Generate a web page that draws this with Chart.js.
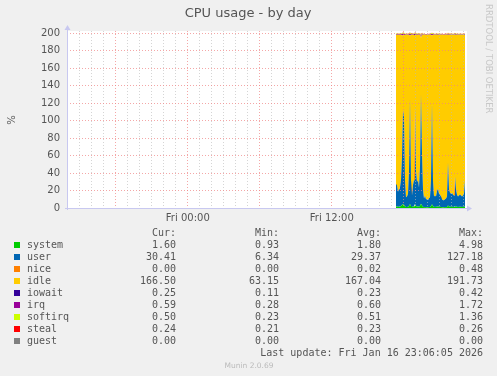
<!DOCTYPE html>
<html><head><meta charset="utf-8">
<script src="https://cdn.jsdelivr.net/npm/chart.js@4/dist/chart.umd.min.js"></script>
<style>html,body{margin:0;padding:0;background:#F0F0F0;}canvas{display:block;}</style>
</head><body>
<canvas id="c" width="497" height="376"></canvas>
<script>
// ---- data (hours relative to Fri 00:00, 5-minute samples) ----
const startHour = 17 + 21/60;
const stepHour = 5/60;
const seriesNames = ['system','user','nice','idle','iowait','irq','softirq','steal','guest'];
const seriesColors = ['#00CC00','#0066B3','#FF8000','#FFCC00','#330099','#990099','#CCFF00','#FF0000','#808080'];
const system = [1.6,1.8,1.5,1.4,1.7,2.2,3.4,4.2,3.6,1.8, 1.2,1.1,1.3,2.4,4.5,2.0,1.2,1.6,1.9,4.9, 2.3,1.7,1.8,1.5,2.5,4.98,2.8,1.4,1.0,1.1, 0.95,0.93,1.0,1.1,1.2,2.0,4.2,1.9,1.2,1.3, 1.2,1.6,1.7,1.4,1.3,1.2,1.0,0.95,1.0,1.1, 1.0,1.2,2.8,1.6,1.4,1.3,1.4,1.3,1.2,2.1, 1.6,1.3,1.2,1.3,1.4,1.3,1.2,1.3,1.4,1.6];
const user = [26,24,17,20,22,30,55,108,100,30, 11,12,15,40,120,30,13,25,30,112, 40,28,30,22,45,125,60,20,10,13, 9,9,8,10,11,30,116,30,12,13, 12,18,20,15,14,12,9,8,8,9, 10,12,49,20,16,15,16,14,13,34, 20,14,12,13,14,13,12,13,15,30];
const nice = [0,0,0,0,0,0,0,0.48,0,0, 0,0,0,0,0.2,0,0,0,0,0, 0,0,0,0,0,0.3,0,0,0,0, 0,0,0,0,0,0,0.2,0,0,0, 0,0,0,0,0,0,0,0,0,0, 0,0,0,0,0,0,0,0,0,0, 0,0,0,0,0,0,0,0,0,0];
const idle = [170.7,172.5,179.8,176.9,174.6,166.1,139.0,85.0,94.0,166.5, 186.1,185.2,182.0,155.9,72.5,166.3,184.1,171.7,166.4,80.5, 156.0,168.6,166.5,174.8,150.8,64.5,135.5,176.9,187.3,184.2, 188.4,188.4,189.3,187.2,186.1,166.3,77.0,166.4,185.1,184.0, 185.1,178.7,176.6,181.9,183.0,185.1,188.3,189.3,189.3,188.2, 187.3,185.1,146.5,176.7,180.9,182.0,180.9,183.0,184.1,162.2, 176.7,183.0,185.1,184.0,182.9,184.0,185.1,184.0,181.9,166.5];
const iowait = [0.25,0.2,0.3,0.22,0.18,0.25,0.35,0.42,0.3,0.2, 0.15,0.2,0.25,0.3,0.4,0.25,0.2,0.18,0.22,0.38, 0.3,0.2,0.25,0.2,0.28,0.4,0.3,0.2,0.15,0.12, 0.11,0.13,0.15,0.2,0.18,0.25,0.35,0.22,0.2,0.18, 0.2,0.22,0.25,0.2,0.18,0.15,0.14,0.12,0.13,0.15, 0.2,0.18,0.3,0.22,0.2,0.25,0.22,0.2,0.18,0.28, 0.22,0.2,0.18,0.2,0.22,0.2,0.18,0.2,0.22,0.25];
const irq = [0.6,0.65,0.5,0.55,0.6,0.7,1.1,1.5,1.3,0.6, 0.4,0.38,0.45,0.8,1.6,0.7,0.42,0.55,0.65,1.5, 0.8,0.6,0.62,0.5,0.85,1.72,1.0,0.5,0.32,0.3, 0.28,0.3,0.32,0.35,0.4,0.7,1.4,0.65,0.4,0.45, 0.42,0.55,0.6,0.5,0.45,0.4,0.33,0.3,0.32,0.35, 0.35,0.4,0.95,0.55,0.5,0.45,0.5,0.45,0.42,0.75, 0.55,0.45,0.42,0.45,0.48,0.45,0.42,0.45,0.5,0.59];
const softirq = [0.5,0.55,0.45,0.48,0.5,0.6,0.9,1.2,1.1,0.5, 0.35,0.32,0.38,0.7,1.3,0.6,0.36,0.48,0.55,1.25, 0.7,0.5,0.52,0.45,0.72,1.36,0.85,0.45,0.28,0.26, 0.23,0.25,0.27,0.3,0.34,0.6,1.2,0.55,0.35,0.38, 0.36,0.48,0.5,0.42,0.38,0.34,0.28,0.25,0.27,0.3, 0.3,0.34,0.8,0.48,0.42,0.38,0.42,0.38,0.36,0.62, 0.46,0.38,0.36,0.38,0.4,0.38,0.36,0.38,0.42,0.5];
const steal = [0.23,0.22,0.24,0.23,0.22,0.23,0.25,0.26,0.24,0.23, 0.22,0.21,0.22,0.23,0.26,0.23,0.22,0.23,0.23,0.25, 0.24,0.23,0.23,0.22,0.24,0.26,0.24,0.23,0.22,0.21, 0.21,0.21,0.22,0.22,0.22,0.23,0.25,0.23,0.22,0.22, 0.22,0.23,0.23,0.22,0.22,0.22,0.21,0.21,0.21,0.22, 0.22,0.22,0.24,0.23,0.22,0.22,0.23,0.22,0.22,0.23, 0.23,0.22,0.22,0.22,0.23,0.22,0.22,0.22,0.23,0.24];
const guest = new Array(70).fill(0);
const seriesValues = [system,user,nice,idle,iowait,irq,softirq,steal,guest];
// legend table
const curVals = ['1.60','30.41','0.00','166.50','0.25','0.59','0.50','0.24','0.00'];
const minVals = ['0.93','6.34','0.00','63.15','0.11','0.28','0.23','0.21','0.00'];
const avgVals = ['1.80','29.37','0.02','167.04','0.23','0.60','0.51','0.23','0.00'];
const maxVals = ['4.98','127.18','0.48','191.73','0.42','1.72','1.36','0.26','0.00'];
const xLabels = {0:'Fri 00:00', 12:'Fri 12:00'};
const titleText = 'CPU usage - by day';
const lastUpdate = 'Last update: Fri Jan 16 23:06:05 2026';
const footer = 'Munin 2.0.69';
const watermark = 'RRDTOOL / TOBI OETIKER';

const times = user.map((_, i) => startHour + i * stepHour);
const datasets = seriesValues.map((vals, k) => ({
  label: seriesNames[k],
  data: vals.map((v, i) => ({x: times[i], y: v})),
  backgroundColor: seriesColors[k],
  borderColor: seriesColors[k],
  borderWidth: 0,
  pointRadius: 0,
  tension: 0,
  fill: k === 0 ? 'origin' : '-1'
}));

const MGRID = 'rgba(240,130,130,0.7)';
const GRID = 'rgba(185,185,185,0.6)';
const TXT = '#555555';

const deco = {
  id: 'deco',
  beforeDraw(chart) {
    const {ctx, chartArea: a} = chart;
    ctx.save();
    ctx.fillStyle = '#F0F0F0';
    ctx.fillRect(0, 0, chart.width, chart.height);
    ctx.fillStyle = '#FFFFFF';
    ctx.fillRect(a.left, a.top, a.right - a.left + 2, a.bottom - a.top);
    ctx.restore();
  },
  afterDraw(chart) {
    const {ctx, chartArea: a} = chart;
    ctx.save();
    // axes with arrows
    ctx.strokeStyle = '#C8C8F0';
    ctx.fillStyle = '#C8C8F0';
    ctx.lineWidth = 1;
    ctx.beginPath();
    ctx.moveTo(a.left + 0.5, a.bottom + 2); ctx.lineTo(a.left + 0.5, a.top - 2);
    ctx.moveTo(a.left - 2, a.bottom + 0.5); ctx.lineTo(a.right + 2, a.bottom + 0.5);
    ctx.stroke();
    ctx.beginPath();
    ctx.moveTo(a.left - 2.5, a.top - 1); ctx.lineTo(a.left + 3.5, a.top - 1); ctx.lineTo(a.left + 0.5, a.top - 6); ctx.closePath();
    ctx.fill();
    ctx.beginPath();
    ctx.moveTo(a.right + 2, a.bottom - 2.5); ctx.lineTo(a.right + 2, a.bottom + 3.5); ctx.lineTo(a.right + 7, a.bottom + 0.5); ctx.closePath();
    ctx.fill();
    // title
    ctx.fillStyle = TXT;
    ctx.font = '13px "DejaVu Sans"';
    ctx.textAlign = 'center'; ctx.textBaseline = 'alphabetic';
    ctx.fillText(titleText, 248, 17);
    // y unit
    ctx.save();
    ctx.translate(12, 120); ctx.rotate(-Math.PI / 2);
    ctx.font = '10px "DejaVu Sans"'; ctx.textAlign = 'center'; ctx.textBaseline = 'middle';
    ctx.fillText('%', 0, 0);
    ctx.restore();
    // watermark
    ctx.save();
    ctx.translate(488, 4); ctx.rotate(Math.PI / 2);
    ctx.fillStyle = '#C8C8C8';
    ctx.font = '8.5px "DejaVu Sans"'; ctx.textAlign = 'left'; ctx.textBaseline = 'middle';
    ctx.fillText(watermark, 0, 0);
    ctx.restore();
    // legend table
    ctx.font = '10px "DejaVu Sans Mono"';
    ctx.textBaseline = 'middle';
    ctx.fillStyle = TXT;
    ctx.textAlign = 'right';
    ctx.fillText('Cur:', 176, 233); ctx.fillText('Min:', 279, 233);
    ctx.fillText('Avg:', 381, 233); ctx.fillText('Max:', 483, 233);
    seriesNames.forEach((n, i) => {
      const y = 245 + 12 * i;
      ctx.fillStyle = seriesColors[i];
      ctx.fillRect(14, y - 3, 6, 6);
      ctx.fillStyle = TXT;
      ctx.textAlign = 'left';
      ctx.fillText(n, 27, y);
      ctx.textAlign = 'right';
      ctx.fillText(curVals[i], 176, y);
      ctx.fillText(minVals[i], 279, y);
      ctx.fillText(avgVals[i], 381, y);
      ctx.fillText(maxVals[i], 483, y);
    });
    ctx.textAlign = 'right';
    ctx.fillText(lastUpdate, 483, 353);
    ctx.fillStyle = '#BBBBBB';
    ctx.font = '7.5px "DejaVu Sans"';
    ctx.textAlign = 'center';
    ctx.fillText(footer, 249, 366);
    ctx.restore();
  }
};

new Chart(document.getElementById('c'), {
  type: 'line',
  data: { datasets },
  plugins: [deco],
  options: {
    responsive: false,
    animation: false,
    events: [],
    layout: { padding: { left: 0, top: 31, right: 32, bottom: 0 } },
    plugins: { legend: { display: false }, title: { display: false }, tooltip: { enabled: false }, filler: { propagate: false } },
    elements: { line: { borderWidth: 0 } },
    scales: {
      x: {
        type: 'linear',
        min: 23.1 - 398 / 12,
        max: 23.1,
        afterFit: s => { s.height = 168; },
        border: { display: false, dash: [1, 2] },
        grid: {
          z: 1, drawTicks: false, lineWidth: 1,
          color: c => (Math.round(c.tick.value) % 6 === 0 ? MGRID : GRID)
        },
        ticks: {
          stepSize: 1, includeBounds: false, autoSkip: false, maxRotation: 0, padding: 4,
          color: TXT, font: { family: 'DejaVu Sans', size: 10 },
          callback: v => xLabels[Math.round(v)] || ''
        }
      },
      y: {
        type: 'linear',
        stacked: true,
        min: 0,
        max: 202.6,
        afterFit: s => { s.width = 67; },
        border: { display: false, dash: [1, 2] },
        grid: {
          z: 1, drawTicks: false, lineWidth: 1,
          color: c => (Math.round(c.tick.value) % 20 === 0 ? MGRID : GRID)
        },
        ticks: {
          stepSize: 10, includeBounds: false, padding: 7,
          color: TXT, font: { family: 'DejaVu Sans', size: 10 },
          callback: v => (Math.round(v) % 20 === 0 ? String(Math.round(v)) : '')
        }
      }
    }
  }
});
</script>
</body></html>
